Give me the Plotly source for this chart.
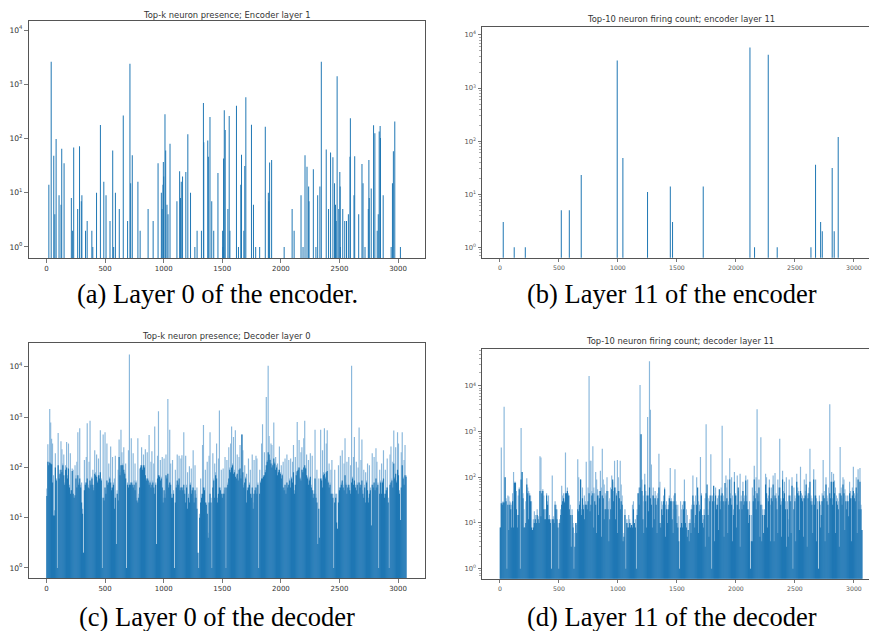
import plotly.graph_objects as go

W, H = 869, 631

# ---------------- data ----------------
# (a) encoder layer 0 : sparse neuron counts
enc0_neuron = [20, 40, 62, 71, 82, 107, 124, 130, 150, 212, 223, 232, 266, 282, 297, 302, 333, 347, 387, 395,
               427, 460, 489, 508, 542, 565, 573, 588, 621, 655, 692, 712, 718, 732, 780, 799, 867, 910, 952, 980,
               986, 994, 997, 1000, 1011, 1017, 1028, 1037, 1054, 1113, 1136, 1144, 1150, 1161, 1189, 1206, 1229,
               1266, 1285, 1322, 1339, 1342, 1376, 1381, 1395, 1410, 1427, 1463, 1503, 1506, 1511, 1517, 1525,
               1548, 1559, 1565, 1621, 1638, 1658, 1664, 1684, 1692, 1701, 1749, 1766, 1785, 1819, 1867, 1893,
               1898, 1904, 1921, 2028, 2096, 2113, 2172, 2189, 2206, 2223, 2237, 2240, 2277, 2299, 2314, 2333,
               2345, 2387, 2407, 2424, 2444, 2458, 2466, 2472, 2480, 2494, 2503, 2506, 2508, 2528, 2545, 2560,
               2576, 2590, 2593, 2624, 2630, 2664, 2692, 2701, 2718, 2746, 2751, 2754, 2771, 2791, 2802, 2822,
               2831, 2839, 2847, 2850, 2873, 2941, 2952, 2960, 2972, 3020]
enc0_count = [14, 2600, 48, 4, 98, 9, 6, 65, 35, 8, 2, 68, 5, 72, 7, 9, 2, 3, 2, 1,
              10, 178, 16, 9, 3, 60, 1, 10, 5, 265, 3, 2400, 15, 49, 16, 2, 5, 3, 35, 10,
              5, 14, 37, 20, 280, 60, 6, 4, 80, 7, 25, 8, 16, 20, 24, 120, 10,
              1, 2, 2, 450, 85, 92, 46, 250, 7, 2, 23, 2, 1, 43, 330, 143,
              5, 260, 2, 400, 1, 14, 50, 2, 31, 575, 180, 6, 1, 1, 165, 10,
              7, 36, 40, 1, 5, 2, 9, 1, 49, 30, 13, 7, 27, 1, 9, 13,
              2600, 63, 5, 55, 45, 15, 6, 3, 1400, 5, 24, 13, 1, 5, 3, 3,
              4, 46, 235, 9, 47, 4, 34, 15, 1, 5, 40, 8, 12, 175, 125, 2,
              4, 135, 170, 102, 9, 1, 15, 58, 205, 1]

# (b) encoder layer 11 : sparse neuron counts
enc11_neuron = [28, 121, 215, 520, 588, 689, 994, 1042, 1251, 1444, 1463, 1723, 2119, 2158, 2274, 2350,
                2636, 2675, 2718, 2732, 2816, 2833, 2867]
enc11_count = [3, 1, 1, 5, 5, 23, 3300, 48, 11, 14, 3, 14, 5800, 1, 4250, 1,
               1, 36, 3, 2, 31, 2, 120]

# (c) decoder layer 0 : per 8-neuron column, highest count and common (lower) count
dec_bin = 8
dec0_peak = [
    38, 290, 130, 1450, 780, 370, 300, 70, 14, 190, 60, 1, 480, 70, 90, 330,
    230, 120, 180, 50, 110, 320, 70, 300, 45, 190, 35, 95, 90, 25, 110, 70,
    130, 500, 50, 600, 45, 50, 15, 2, 140, 50, 160, 750, 45, 130, 850, 50,
    65, 90, 40, 220, 80, 180, 55, 150, 70, 550, 60, 1, 450, 25, 500, 35,
    300, 50, 120, 65, 260, 40, 160, 50, 60, 170, 3, 35, 90, 360, 80, 560,
    200, 120, 250, 80, 120, 1, 50, 220, 17500, 50, 380, 50, 190, 55, 120, 55,
    25, 380, 30, 95, 110, 250, 100, 180, 110, 230, 60, 200, 60, 440, 55, 130,
    210, 55, 120, 650, 50, 3, 170, 1300, 70, 140, 65, 160, 25, 150, 30, 180,
    65, 2300, 45, 560, 120, 30, 140, 35, 1, 90, 45, 180, 50, 170, 40, 150,
    175, 40, 500, 35, 170, 45, 80, 30, 105, 50, 95, 40, 220, 25, 110, 30,
    40, 2, 1, 12, 60, 30, 280, 700, 40, 90, 20, 130, 5, 170, 500, 25,
    1, 190, 60, 120, 80, 300, 25, 150, 1350, 40, 90, 30, 95, 35, 160, 1,
    140, 50, 250, 100, 300, 650, 120, 400, 90, 550, 70, 180, 60, 160, 280, 70,
    450, 220, 45, 110, 65, 75, 40, 150, 50, 90, 30, 180, 20, 140, 40, 170,
    150, 50, 1, 90, 55, 300, 720, 70, 200, 90, 2500, 140, 10500, 420, 150, 300,
    280, 120, 780, 130, 160, 110, 120, 90, 260, 80, 110, 75, 130, 40, 150, 35,
    180, 45, 140, 60, 150, 65, 130, 280, 35, 160, 80, 800, 100, 350, 65, 200,
    250, 90, 380, 850, 100, 180, 65, 140, 60, 190, 45, 170, 30, 35, 560, 30,
    90, 3, 60, 4, 560, 60, 220, 80, 600, 65, 300, 550, 55, 120, 50, 90,
    140, 30, 1, 90, 30, 30, 6, 110, 40, 170, 50, 220, 45, 120, 380, 50,
    130, 45, 160, 40, 110, 10500, 65, 160, 400, 45, 130, 50, 100, 620, 45, 140,
    360, 35, 90, 45, 80, 55, 120, 25, 110, 40, 7, 190, 45, 160, 40, 240,
    130, 50, 1, 90, 55, 120, 55, 220, 30, 90, 40, 150, 25, 1, 180, 260,
    60, 130, 540, 65, 250, 55, 500, 300, 35, 9, 200, 500, 65, 140, 280, 70]
dec0_floor = [
    27, 130, 110, 125, 120, 115, 50, 11, 11, 100, 55, 1, 110, 60, 75, 90,
    80, 110, 70, 45, 90, 100, 60, 95, 40, 30, 35, 85, 30, 25, 28, 60,
    40, 70, 45, 60, 40, 20, 12, 2, 35, 45, 50, 60, 40, 38, 55, 45,
    60, 45, 35, 75, 70, 65, 50, 70, 60, 80, 55, 1, 25, 22, 40, 30,
    55, 45, 50, 60, 50, 35, 40, 45, 15, 25, 3, 30, 22, 160, 70, 110,
    110, 110, 90, 75, 60, 1, 45, 40, 45, 45, 50, 45, 40, 45, 35, 50,
    22, 20, 25, 40, 100, 110, 90, 110, 100, 70, 55, 60, 55, 45, 50, 40,
    45, 50, 40, 30, 45, 3, 60, 70, 65, 55, 60, 40, 20, 35, 25, 70,
    60, 75, 40, 50, 45, 25, 25, 30, 1, 20, 40, 55, 45, 60, 35, 40,
    40, 35, 45, 30, 20, 40, 15, 25, 20, 45, 30, 35, 40, 20, 35, 25,
    15, 2, 1, 10, 20, 25, 30, 40, 35, 20, 18, 12, 4, 20, 30, 20,
    1, 40, 55, 25, 70, 60, 20, 30, 40, 35, 30, 25, 30, 30, 40, 1,
    40, 45, 60, 90, 80, 100, 110, 75, 80, 65, 60, 75, 55, 90, 95, 60,
    450, 80, 40, 50, 60, 20, 35, 40, 45, 30, 25, 40, 15, 30, 35, 40,
    30, 45, 1, 30, 50, 60, 60, 65, 70, 80, 110, 130, 200, 180, 140, 120,
    100, 110, 150, 120, 90, 100, 70, 80, 90, 75, 60, 70, 40, 35, 45, 30,
    50, 40, 45, 55, 40, 60, 50, 80, 30, 45, 70, 85, 90, 100, 60, 55,
    90, 80, 100, 110, 95, 70, 60, 45, 55, 65, 40, 35, 25, 30, 60, 25,
    20, 3, 15, 4, 60, 55, 40, 70, 75, 60, 80, 85, 50, 40, 45, 30,
    30, 25, 1, 20, 25, 8, 6, 20, 35, 40, 45, 55, 40, 35, 70, 45,
    30, 40, 45, 35, 30, 50, 60, 45, 55, 40, 35, 45, 30, 50, 40, 45,
    55, 30, 25, 40, 20, 50, 35, 20, 30, 35, 7, 45, 40, 50, 35, 60,
    40, 45, 1, 30, 50, 30, 50, 60, 25, 30, 35, 40, 20, 1, 45, 50,
    55, 40, 120, 60, 75, 50, 90, 70, 30, 9, 40, 110, 60, 45, 70, 65]

# (d) decoder layer 11 : per 8-neuron column, highest count and common (lower) count
dec11_peak = [
    8, 450, 28, 30, 3500, 100, 35, 1, 40, 38, 30, 28, 25, 45, 130, 80,
    80, 50, 15, 40, 60, 1, 1200, 130, 45, 20, 8, 30, 95, 60, 50, 45,
    40, 30, 7, 12, 18, 15, 10, 20, 14, 10, 290, 270, 50, 55, 40, 20,
    20, 45, 30, 40, 15, 12, 1, 110, 14, 12, 30, 25, 20, 10, 1, 12,
    20, 65, 40, 45, 30, 350, 45, 60, 45, 40, 25, 3, 20, 10, 1, 6,
    10, 9, 250, 100, 30, 90, 20, 60, 25, 40, 30, 220, 25, 60, 16500, 230,
    230, 50, 480, 60, 45, 130, 90, 55, 40, 50, 140, 60, 420, 90, 70, 45,
    40, 100, 50, 30, 35, 60, 110, 80, 50, 230, 60, 45, 240, 100, 50, 230,
    70, 40, 4, 6, 20, 1, 12, 10, 15, 12, 10, 9, 25, 30, 10, 12,
    1, 20, 45, 60, 10500, 880, 90, 40, 30, 120, 50, 40, 2100, 40, 35000, 3000,
    190, 40, 60, 35, 50, 40, 30, 45, 330, 80, 10, 30, 25, 40, 60, 25,
    30, 20, 25, 40, 160, 35, 30, 20, 40, 150, 30, 20, 25, 14, 1, 30,
    20, 25, 30, 90, 30, 20, 15, 7, 10, 12, 20, 25, 110, 30, 10, 40,
    100, 40, 30, 25, 280, 45, 15, 12, 20, 35, 1450, 40, 20, 35, 40, 320,
    1, 40, 45, 30, 60, 25, 35, 40, 25, 30, 60, 1350, 40, 30, 25, 110,
    60, 90, 30, 260, 45, 100, 40, 20, 130, 45, 40, 110, 50, 30, 120, 40,
    30, 80, 35, 40, 110, 40, 90, 20, 30, 1, 15, 60, 40, 180, 50, 100,
    3100, 40, 90, 30, 750, 25, 20, 6, 20, 120, 100, 35, 40, 90, 25, 60,
    40, 110, 35, 125, 45, 30, 90, 60, 700, 35, 30, 140, 50, 80, 30, 100,
    30, 12, 90, 40, 30, 100, 1, 60, 40, 35, 120, 60, 50, 40, 170, 45,
    40, 35, 90, 50, 120, 40, 45, 60, 420, 40, 35, 30, 150, 40, 90, 35,
    30, 1, 40, 25, 30, 45, 240, 50, 35, 100, 40, 35, 60, 4000, 80, 130,
    35, 120, 85, 60, 40, 35, 30, 45, 460, 60, 35, 100, 90, 55, 40, 30,
    40, 30, 80, 50, 35, 60, 170, 45, 40, 100, 45, 150, 30, 160, 25, 7]
dec11_floor = [
    8, 27, 25, 28, 28, 100, 30, 1, 25, 7, 25, 20, 8, 30, 8, 75,
    75, 20, 8, 15, 55, 1, 90, 130, 35, 8, 8, 10, 70, 45, 12, 40,
    30, 8, 7, 8, 10, 12, 10, 15, 12, 10, 50, 14, 45, 50, 20, 12,
    12, 40, 25, 12, 12, 10, 1, 12, 12, 10, 25, 20, 12, 8, 1, 10,
    15, 25, 30, 35, 28, 45, 45, 50, 40, 20, 15, 3, 15, 8, 1, 3,
    10, 6, 20, 18, 25, 90, 15, 35, 20, 12, 25, 25, 20, 30, 45, 18,
    25, 40, 45, 8, 30, 25, 6, 40, 15, 35, 50, 5, 40, 35, 12, 20,
    20, 50, 20, 4, 12, 20, 55, 90, 30, 60, 12, 40, 6, 50, 35, 20,
    30, 25, 4, 5, 15, 1, 10, 8, 8, 10, 8, 9, 8, 20, 10, 8,
    1, 15, 45, 25, 60, 880, 50, 12, 6, 70, 30, 8, 40, 18, 60, 35,
    25, 8, 40, 12, 35, 25, 6, 35, 60, 10, 8, 20, 15, 30, 55, 5,
    20, 10, 20, 35, 30, 30, 12, 6, 30, 45, 25, 10, 8, 4, 1, 8,
    10, 8, 20, 30, 10, 8, 5, 7, 4, 10, 6, 20, 40, 25, 8, 15,
    25, 60, 6, 18, 20, 40, 10, 8, 15, 3, 45, 70, 15, 5, 30, 40,
    1, 30, 65, 4, 40, 20, 25, 7, 55, 20, 40, 45, 30, 5, 75, 30,
    35, 6, 25, 90, 35, 25, 4, 15, 80, 40, 8, 25, 60, 20, 3, 30,
    20, 50, 25, 30, 85, 30, 20, 10, 15, 1, 4, 4, 30, 90, 35, 20,
    45, 30, 60, 5, 25, 4, 15, 6, 15, 70, 45, 8, 30, 60, 4, 35,
    30, 70, 4, 40, 35, 20, 6, 40, 60, 25, 5, 90, 35, 45, 20, 3,
    20, 5, 40, 30, 6, 65, 1, 20, 30, 4, 80, 45, 40, 7, 50, 35,
    30, 5, 35, 40, 70, 3, 35, 45, 80, 30, 25, 6, 90, 25, 40, 4,
    20, 1, 30, 8, 15, 30, 40, 35, 4, 70, 30, 25, 6, 45, 35, 80,
    25, 80, 45, 6, 30, 25, 20, 3, 45, 40, 25, 70, 45, 7, 30, 20,
    30, 14, 45, 35, 4, 40, 50, 35, 30, 60, 6, 90, 20, 80, 20, 7]

x_tick_vals = [0, 500, 1000, 1500, 2000, 2500, 3000]
y_tick_vals = [1, 10, 100, 1000, 10000]
y_tick_text = ["10<sup>0</sup>", "10<sup>1</sup>", "10<sup>2</sup>", "10<sup>3</sup>", "10<sup>4</sup>"]
titles = ["Top-k neuron presence; Encoder layer 1",
          "Top-10 neuron firing count; encoder layer 11",
          "Top-k neuron presence; Decoder layer 0",
          "Top-10 neuron firing count; decoder layer 11"]
captions = ["(a) Layer 0 of the encoder.", "(b) Layer 11 of the encoder",
            "(c) Layer 0 of the decoder", "(d) Layer 11 of the decoder"]

# ---------------- styling ----------------
BLUE = "#1f77b4"
LIGHT = "#8ab8dc"
BAR_W = 8.5
DENSE_W = 10
SANS = "DejaVu Sans"
SERIF = "Liberation Serif"


def px(x):
    return x / W


def py(y):
    return 1 - y / H


# panel geometry in pixels: (left, right, top, bottom), x range, log y range
panels = [
    dict(l=28.5, r=424.5, t=21.0, b=258.0, xr=[-153.6, 3225.6], yr=[-0.203, 4.166], cut=False),
    dict(l=482.0, r=869.0, t=26.7, b=257.7, xr=[-152.0, 3128.0], yr=[-0.196, 4.155], cut=True),
    dict(l=28.5, r=424.5, t=343.3, b=578.3, xr=[-153.6, 3225.6], yr=[-0.205, 4.467], cut=False),
    dict(l=482.0, r=869.0, t=349.0, b=578.7, xr=[-152.0, 3128.0], yr=[-0.220, 4.810], cut=True),
]
title_pos = [(226.5, 15.0), (681.0, 19.0), (226.5, 336.0), (680.0, 340.7)]
caption_pos = [(217.0, 294.0), (672.0, 294.0), (217.0, 617.0), (672.0, 617.0)]

fig = go.Figure()


def ax(i, suffix):
    return suffix if i == 0 else f"{suffix}{i + 1}"


# sparse panels
fig.add_trace(go.Bar(x=enc0_neuron, y=enc0_count, width=BAR_W,
                     marker=dict(color=BLUE, line=dict(width=0)), xaxis="x", yaxis="y"))
fig.add_trace(go.Bar(x=enc11_neuron, y=enc11_count, width=BAR_W,
                     marker=dict(color=BLUE, line=dict(width=0)), xaxis="x2", yaxis="y2"))

# dense panels
for i, (peak, floor) in zip([2, 3], [(dec0_peak, dec0_floor), (dec11_peak, dec11_floor)]):
    xs = [k * dec_bin + (dec_bin - 1) / 2 for k in range(len(peak))]
    fig.add_trace(go.Bar(x=xs, y=peak, width=DENSE_W, marker=dict(color=LIGHT, line=dict(width=0)),
                         xaxis=ax(i, "x"), yaxis=ax(i, "y")))
    fig.add_trace(go.Bar(x=xs, y=floor, width=DENSE_W, marker=dict(color=BLUE, line=dict(width=0)),
                         xaxis=ax(i, "x"), yaxis=ax(i, "y")))

minor_vals = [m * 10 ** e for e in range(-1, 5) for m in range(2, 10)]

layout = dict(width=W, height=H, margin=dict(l=0, r=0, t=0, b=0),
              paper_bgcolor="white", plot_bgcolor="white", showlegend=False,
              barmode="overlay", font=dict(family=SANS, color="#333"))

for i, p in enumerate(panels):
    small = p["cut"]
    tcol = "#555" if small else "#333"
    tsize = 6.2 if small else 7.0
    xa = dict(domain=[px(p["l"]), px(p["r"])], range=p["xr"], anchor=ax(i, "y"),
              showline=True, mirror=True, linecolor="#555", linewidth=1,
              ticks="outside", ticklen=3.5, tickcolor="#555", tickwidth=0.8,
              tickvals=x_tick_vals, ticktext=[str(v) for v in x_tick_vals],
              tickfont=dict(family=SANS, size=tsize, color=tcol),
              showgrid=False, zeroline=False, fixedrange=True)
    ya = dict(domain=[py(p["b"]), py(p["t"])], type="log", range=p["yr"], anchor=ax(i, "x"),
              showline=True, mirror=not small, linecolor="#555", linewidth=1,
              ticks="outside", ticklen=3.5, tickcolor="#555", tickwidth=0.8,
              tickvals=y_tick_vals, ticktext=y_tick_text,
              tickfont=dict(family=SANS, size=tsize + 0.6, color=tcol),
              showgrid=False, zeroline=False, fixedrange=True)
    if small:
        ya["minor"] = dict(ticks="outside", ticklen=2, tickcolor="#777", tickwidth=0.6,
                           tickvals=minor_vals, showgrid=False)
    layout["xaxis" if i == 0 else f"xaxis{i + 1}"] = xa
    layout["yaxis" if i == 0 else f"yaxis{i + 1}"] = ya

annotations = []
for t, (x, y) in zip(titles, title_pos):
    annotations.append(dict(text=t, x=px(x), y=py(y), xref="paper", yref="paper",
                            xanchor="center", yanchor="middle", showarrow=False,
                            font=dict(family=SANS, size=8.4, color="#333")))
for c, (x, y) in zip(captions, caption_pos):
    annotations.append(dict(text=c, x=px(x), y=py(y), xref="paper", yref="paper",
                            xanchor="center", yanchor="middle", showarrow=False,
                            font=dict(family=SERIF, size=26.5, color="black")))
layout["annotations"] = annotations

fig.update_layout(**layout)
fig.write_html("out.html", config={"staticPlot": True, "displayModeBar": False},
               post_script="document.body.style.margin='0px';document.body.style.overflow='hidden';")
